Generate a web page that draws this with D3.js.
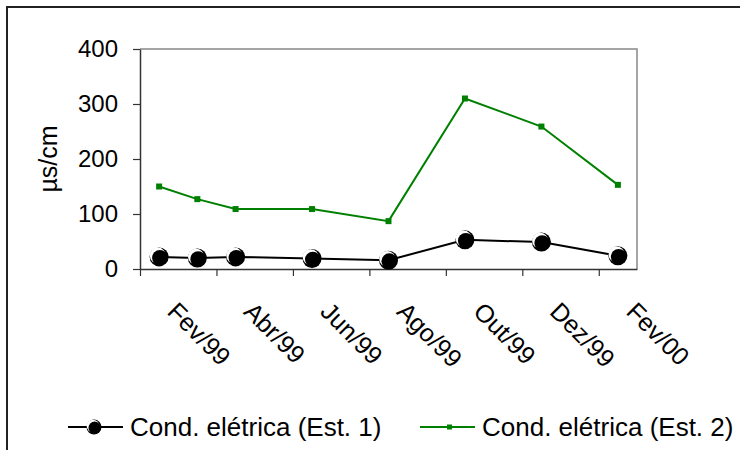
<!DOCTYPE html>
<html lang="en">
<head>
    <meta charset="UTF-8">
    <title>Condutividade elétrica</title>
    <script src="https://d3js.org/d3.v7.js"></script>
    <style>
        body { margin: 0; background: #fff; }
        text { font-family: "Liberation Sans", Arial, sans-serif; fill: #000; }
    </style>
</head>
<body>
    <svg></svg>
    <script>
        // months on the date axis (one band per month)
        const months = ["Fev/99", "Mar/99", "Abr/99", "Mai/99", "Jun/99", "Jul/99", "Ago/99",
                        "Set/99", "Out/99", "Nov/99", "Dez/99", "Jan/00", "Fev/00"];
        const tickLabels = ["Fev/99", "Abr/99", "Jun/99", "Ago/99", "Out/99", "Dez/99", "Fev/00"];
        const sampleDates = ["Fev/99", "Mar/99", "Abr/99", "Jun/99", "Ago/99", "Out/99", "Dez/99", "Fev/00"];
        const est1 = [22, 20, 22, 19, 16, 53, 49, 24];
        const est2 = [150, 127, 109, 109, 87, 310, 259, 153];
        const yTicks = [0, 100, 200, 300, 400];

        const width = 740, height = 450;
        const plotL = 140, plotR = 637, plotT = 49, plotB = 269;

        const svg = d3.select("svg")
            .attr("width", width)
            .attr("height", height);

        svg.append("rect")
            .attr("width", width).attr("height", height)
            .attr("fill", "#fff");

        // outer chart border (runs off the right and bottom)
        svg.append("rect")
            .attr("x", 7).attr("y", 7)
            .attr("width", 800).attr("height", 500)
            .attr("fill", "none")
            .attr("stroke", "#222")
            .attr("stroke-width", 2);

        const x = d3.scaleBand().domain(months).range([plotL, plotR]).padding(0);
        const xi = d3.scaleLinear().domain([0, months.length]).range([plotL, plotR]);
        const y = d3.scaleLinear().domain([0, 400]).range([plotB, plotT]);
        const cx = d => x(d) + x.bandwidth() / 2;

        // plot frame: top and right in grey
        svg.append("path")
            .attr("d", `M${plotL},${plotT}H${plotR}V${plotB}`)
            .attr("fill", "none")
            .attr("stroke", "#888")
            .attr("stroke-width", 1.5);

        const yAxis = svg.append("g")
            .attr("transform", `translate(${plotL},0)`)
            .call(d3.axisLeft(y).tickValues(yTicks).tickSize(7).tickSizeOuter(0).tickPadding(15));
        yAxis.selectAll("text")
            .style("font-size", "24px");

        const xAxis = svg.append("g")
            .attr("transform", `translate(0,${plotB})`)
            .call(d3.axisBottom(xi).tickValues(d3.range(0, months.length, 2)).tickFormat("").tickSize(7).tickSizeOuter(0));

        [yAxis, xAxis].forEach(g => {
            g.select(".domain").attr("stroke", "#333").attr("stroke-width", 1.5);
            g.selectAll(".tick line").attr("stroke", "#333").attr("stroke-width", 1.2);
        });

        svg.append("g")
            .selectAll("text")
            .data(tickLabels)
            .join("text")
            .attr("transform", d => `translate(${cx(d) + 7},${plotB + 44}) rotate(45)`)
            .style("font-size", "25px")
            .text(d => d);

        svg.append("text")
            .attr("transform", `translate(57,${(plotT + plotB) / 2}) rotate(-90)`)
            .attr("text-anchor", "middle")
            .style("font-size", "25px")
            .text("µs/cm");

        const pts1 = sampleDates.map((d, i) => [cx(d), y(est1[i])]);
        const pts2 = sampleDates.map((d, i) => [cx(d), y(est2[i])]);

        svg.append("path")
            .attr("d", d3.line()(pts2))
            .attr("fill", "none")
            .attr("stroke", "#008000")
            .attr("stroke-width", 2);
        svg.append("g")
            .selectAll("rect")
            .data(pts2)
            .join("rect")
            .attr("x", d => d[0] - 3).attr("y", d => d[1] - 3)
            .attr("width", 6).attr("height", 6)
            .attr("fill", "#008000");

        svg.append("path")
            .attr("d", d3.line()(pts1))
            .attr("fill", "none")
            .attr("stroke", "#000")
            .attr("stroke-width", 2);

        // shiny black ball marker
        function ball(g, r) {
            g.append("circle").attr("r", r).attr("fill", "#000");
            g.append("circle").attr("r", r * 0.84).attr("cx", -r * 0.14).attr("cy", -r * 0.14).attr("fill", "#fff");
            g.append("circle").attr("r", r * 0.82).attr("cx", r * 0.08).attr("cy", r * 0.1).attr("fill", "#000");
        }
        svg.append("g")
            .selectAll("g")
            .data(pts1)
            .join("g")
            .attr("transform", d => `translate(${d[0]},${d[1]})`)
            .each(function () { ball(d3.select(this), 9.5); });

        // legend
        const ly = 427;
        svg.append("line").attr("x1", 68).attr("x2", 123).attr("y1", ly).attr("y2", ly)
            .attr("stroke", "#000").attr("stroke-width", 2);
        ball(svg.append("g").attr("transform", `translate(94,${ly})`), 7.5);
        svg.append("text").attr("x", 130).attr("y", ly + 9)
            .style("font-size", "26px")
            .text("Cond. elétrica (Est. 1)");

        svg.append("line").attr("x1", 420).attr("x2", 475).attr("y1", ly).attr("y2", ly)
            .attr("stroke", "#008000").attr("stroke-width", 2);
        svg.append("rect").attr("x", 447).attr("y", ly - 2.5).attr("width", 5).attr("height", 5)
            .attr("fill", "#008000");
        svg.append("text").attr("x", 482).attr("y", ly + 9)
            .style("font-size", "26px")
            .text("Cond. elétrica (Est. 2)");
    </script>
</body>
</html>
